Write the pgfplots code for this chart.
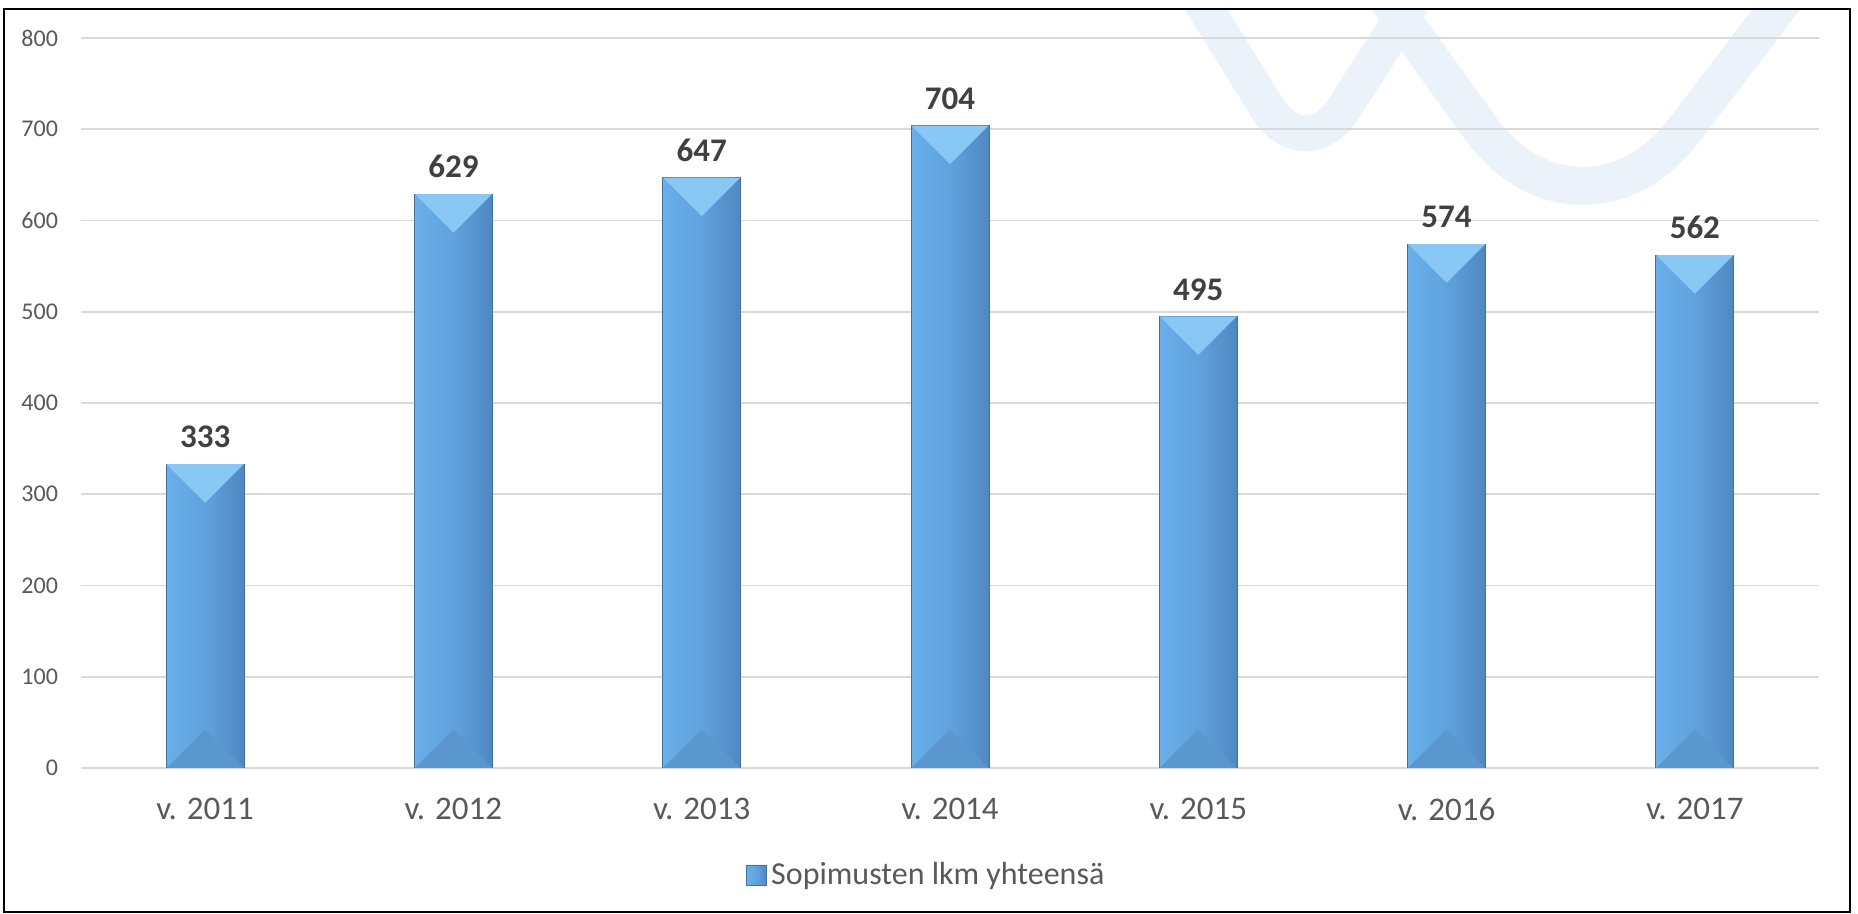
\documentclass[border=0pt]{standalone}
\usepackage{fontspec}
\setmainfont{Carlito}
\usepackage{pgfplots}
\pgfplotsset{compat=1.18}

\definecolor{gridgray}{HTML}{D9D9D9}
\definecolor{labelgray}{HTML}{595959}
\definecolor{valgray}{HTML}{404040}
\definecolor{barleft}{HTML}{69AFEA}
\definecolor{barmid}{HTML}{60A2DE}
\definecolor{barright}{HTML}{5087C1}
\definecolor{baredge}{HTML}{41709F}
\definecolor{toptri}{HTML}{89C7F5}
\definecolor{bottri}{HTML}{5B97CF}
\definecolor{wmark}{HTML}{ECF2F9}

% bevel triangles, half a bar wide deep
\pgfdeclareplotmark{bevtop}{%
  \pgfpathmoveto{\pgfqpoint{-19.3pt}{0pt}}%
  \pgfpathlineto{\pgfqpoint{19.3pt}{0pt}}%
  \pgfpathlineto{\pgfqpoint{0pt}{-19.3pt}}%
  \pgfpathclose\pgfusepathqfill}
\pgfdeclareplotmark{bevbot}{%
  \pgfpathmoveto{\pgfqpoint{-19.3pt}{0pt}}%
  \pgfpathlineto{\pgfqpoint{19.3pt}{0pt}}%
  \pgfpathlineto{\pgfqpoint{0pt}{19.3pt}}%
  \pgfpathclose\pgfusepathqfill}

\pgfplotsset{
  bevbar/.style={ybar, bar width=39pt, bar shift=0pt, draw=baredge, line width=0.4pt,
    left color=barleft, right color=barright, middle color=barmid,
    nodes near coords,
    every node near coord/.append style={font=\bfseries\fontsize{16.5}{19}\selectfont,
      text=valgray, anchor=south, yshift=4.5pt}},
}

\begin{document}
\begin{tikzpicture}
\useasboundingbox (0,0) rectangle (929pt,457pt);

% watermark behind the chart
\begin{scope}
  \clip (2pt,1pt) rectangle (925pt,452.5pt);
  \draw[wmark, line width=18pt, rounded corners=36pt] (597pt,462pt) -- (652.5pt,372.5pt) -- (706pt,456pt);
  \draw[wmark, line width=19pt, rounded corners=86pt] (690.5pt,462pt) -- (790pt,323.5pt) -- (895.5pt,462pt);
\end{scope}

\begin{axis}[
    at={(40.5pt,73pt)}, anchor=south west,
    scale only axis, width=869pt, height=365pt,
    xmin=-0.5, xmax=6.5, ymin=0, ymax=800,
    xtick={0,...,6},
    xticklabels={v. 2011,v. 2012,v. 2013,v. 2014,v. 2015,v. 2016,v. 2017},
    ytick={0,100,...,800},
    ymajorgrids, grid style={draw=gridgray, line width=0.8pt},
    axis line style={draw=none},
    major tick length=0pt,
    tick label style={text=labelgray},
    /pgf/number format/assume math mode=true,
    yticklabel style={font=\fontsize{12}{14}\selectfont, xshift=-8pt},
    xticklabel style={font=\fontsize{16.5}{19}\selectfont, yshift=-11.5pt},
    legend style={at={(0.487,-0.147)}, anchor=center, draw=none, fill=none,
      font=\fontsize{16}{19}\selectfont, text=labelgray},
    legend image code/.code={%
      \fill[left color=barleft, right color=barright] (0pt,-5pt) rectangle (10pt,5pt);
      \fill[toptri] (0pt,5pt) -- (10pt,5pt) -- (5pt,0pt) -- cycle;
      \draw[baredge, line width=0.4pt] (0pt,-5pt) rectangle (10pt,5pt);},
  ]
  \addplot[bevbar] coordinates {(0,333)};
  \addlegendentry{Sopimusten lkm yhteensä}
  \addplot[bevbar, forget plot] coordinates {(1,629)};
  \addplot[bevbar, forget plot] coordinates {(2,647)};
  \addplot[bevbar, forget plot] coordinates {(3,704)};
  \addplot[bevbar, forget plot] coordinates {(4,495)};
  \addplot[bevbar, forget plot] coordinates {(5,574)};
  \addplot[bevbar, forget plot] coordinates {(6,562)};
  \addplot[forget plot, only marks, mark=bevtop, mark options={fill=toptri, draw=none}]
    coordinates {(0,333) (1,629) (2,647) (3,704) (4,495) (5,574) (6,562)};
  \addplot[forget plot, only marks, mark=bevbot, mark options={fill=bottri, draw=none}]
    coordinates {(0,0) (1,0) (2,0) (3,0) (4,0) (5,0) (6,0)};
\end{axis}

\draw[black, line width=1.3pt] (2pt,1pt) rectangle (925pt,452.5pt);
\end{tikzpicture}
\end{document}
